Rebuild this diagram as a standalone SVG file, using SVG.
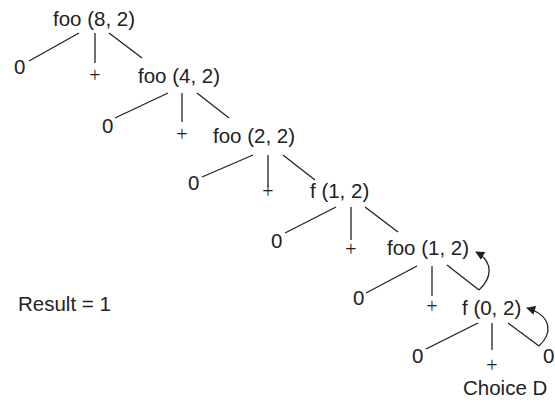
<svg xmlns="http://www.w3.org/2000/svg" width="555" height="402" viewBox="0 0 555 402">
  <defs>
    <style>
      text { font-family: "Liberation Sans", Arial, Helvetica, sans-serif; font-size: 20.5px; fill: #222; }
      .plus { text-anchor: middle; font-family: "Liberation Serif", "Times New Roman", serif; font-size: 20px; }
      .edge { stroke: #222; stroke-width: 1.3; fill: none; }
    </style>
    <marker id="arrowhead" viewBox="0 0 10 10" refX="9" refY="5" markerWidth="10" markerHeight="9" markerUnits="userSpaceOnUse" orient="auto">
      <path d="M0,0 L10,5 L0,10 z" fill="#222"/>
    </marker>
  </defs>

  <!-- call tree nodes -->
  <g id="call-foo-8-2"><text x="53" y="26">foo (8, 2)</text></g>
  <g id="zero-1"><text x="14" y="73.5">0</text></g>
  <g id="plus-1"><text class="plus" x="95" y="82">+</text></g>

  <g id="call-foo-4-2"><text x="138" y="83">foo (4, 2)</text></g>
  <g id="zero-2"><text x="102" y="133">0</text></g>
  <g id="plus-2"><text class="plus" x="182" y="141">+</text></g>

  <g id="call-foo-2-2"><text x="213" y="143">foo (2, 2)</text></g>
  <g id="zero-3"><text x="188" y="190">0</text></g>
  <g id="plus-3"><text class="plus" x="268" y="198">+</text></g>

  <g id="call-f-1-2"><text x="310" y="198">f (1, 2)</text></g>
  <g id="zero-4"><text x="271" y="248">0</text></g>
  <g id="plus-4"><text class="plus" x="351" y="256">+</text></g>

  <g id="call-foo-1-2"><text x="387" y="255">foo (1, 2)</text></g>
  <g id="zero-5"><text x="353" y="305">0</text></g>
  <g id="plus-5"><text class="plus" x="432" y="313">+</text></g>

  <g id="call-f-0-2"><text x="462" y="315">f (0, 2)</text></g>
  <g id="zero-6"><text x="412" y="363">0</text></g>
  <g id="plus-6"><text class="plus" x="492" y="372">+</text></g>
  <g id="zero-7"><text x="543" y="363">0</text></g>

  <g id="label-choice"><text x="463" y="395">Choice D</text></g>
  <g id="label-result"><text x="18" y="311">Result = 1</text></g>

  <!-- edges of the recursion tree and return arrows -->
  <g id="connectors">
    <line class="edge" x1="79" y1="33" x2="29" y2="61"/>
    <line class="edge" x1="95" y1="33" x2="95" y2="63"/>
    <line class="edge" x1="109" y1="33" x2="142" y2="58"/>

    <line class="edge" x1="168" y1="93" x2="115" y2="118"/>
    <line class="edge" x1="182" y1="93" x2="182" y2="122"/>
    <line class="edge" x1="197" y1="93" x2="229" y2="118"/>

    <line class="edge" x1="253" y1="155" x2="202" y2="177"/>
    <line class="edge" x1="268" y1="155" x2="268" y2="187"/>
    <line class="edge" x1="283" y1="155" x2="315" y2="180"/>

    <line class="edge" x1="336" y1="207" x2="285" y2="233"/>
    <line class="edge" x1="351" y1="207" x2="351" y2="240"/>
    <line class="edge" x1="365" y1="207" x2="398" y2="232"/>

    <line class="edge" x1="417" y1="266" x2="366" y2="293"/>
    <line class="edge" x1="432" y1="266" x2="432" y2="296"/>
    <line class="edge" x1="447" y1="265" x2="479" y2="290"/>

    <line class="edge" x1="478" y1="323" x2="426" y2="349"/>
    <line class="edge" x1="492" y1="323" x2="492" y2="350"/>
    <line class="edge" x1="508" y1="323" x2="539" y2="346"/>

    <path class="edge" d="M479,290 C492,278 494,262 476,252" marker-end="url(#arrowhead)"/>
    <path class="edge" d="M539,346 C552,334 553,316 527,308" marker-end="url(#arrowhead)"/>
  </g>
</svg>
